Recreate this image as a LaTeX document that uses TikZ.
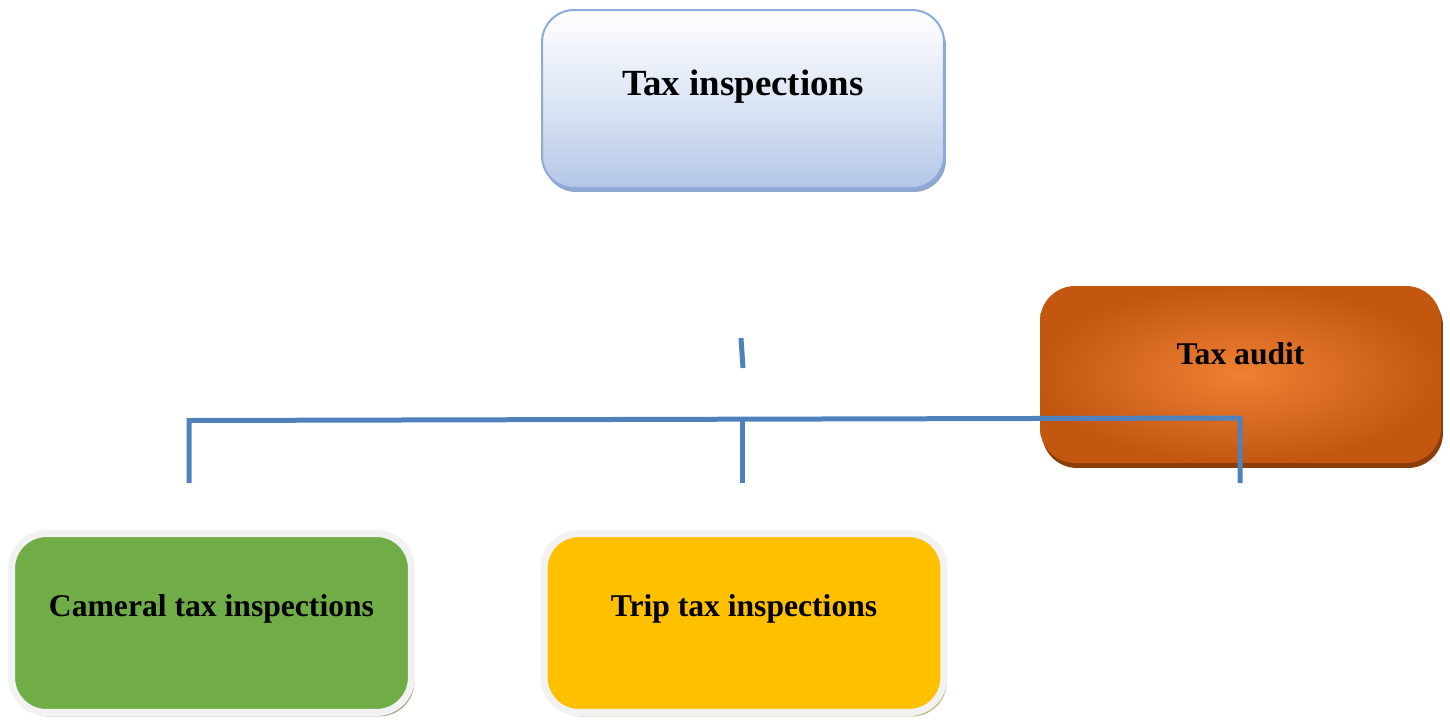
\documentclass[tikz,border=0pt]{standalone}
\usepackage{fontspec}
\setmainfont{Liberation Serif}
\usetikzlibrary{%
    calc,
    positioning,
    shadows
}
\definecolor{linkblue}{HTML}{4F81BD}
\definecolor{topedge}{HTML}{8EAADB}
\definecolor{topfill}{HTML}{B4C7E7}
\definecolor{topshade}{HTML}{8FA7CC}
\definecolor{auditin}{HTML}{EF8035}
\definecolor{auditout}{HTML}{C35710}
\definecolor{auditshade}{HTML}{8A3E0C}
\definecolor{camgreen}{HTML}{70AD47}
\definecolor{camshade}{HTML}{A3AE96}
\definecolor{tripyellow}{HTML}{FFC000}
\definecolor{tripshade}{HTML}{C6B68A}
\definecolor{rim}{HTML}{F2F2F2}
\tikzset{
    boxtitle/.style = {font=\bfseries\fontsize{18}{22}\selectfont},
    headbox/.style = {rounded corners=0.64cm, draw=topedge, line width=0.04cm,
        top color=white, bottom color=topfill, middle color=topfill!45!white,
        minimum width=8.04cm, minimum height=3.56cm,
        drop shadow={shadow xshift=0.04cm, shadow yshift=-0.08cm, fill=topshade, opacity=1}},
    auditbox/.style = {rounded corners=0.7cm, shading=radial,
        inner color=auditin, outer color=auditout,
        minimum width=8.02cm, minimum height=3.54cm,
        drop shadow={shadow xshift=0.04cm, shadow yshift=-0.1cm, fill=auditshade, opacity=1}},
    kindbox/.style = {rounded corners=0.7cm, draw=rim, line width=0.14cm,
        minimum width=8cm, minimum height=3.58cm},
    link/.style = {draw=linkblue, line width=0.1cm}
}

\begin{document}
\begin{tikzpicture}[x=0.02cm, y=-0.02cm]
    \useasboundingbox (0,0) rectangle (1450,720);

    \node[headbox, label={[boxtitle, font=\bfseries\fontsize{21}{25}\selectfont, yshift=0.25cm]center:Tax inspections}]
        (insp) at (743,99) {};
    \node[auditbox, label={[boxtitle, yshift=0.42cm]center:Tax audit}]
        (audit) at (1240.5,374.5) {};
    \node[kindbox, fill=camgreen,
        drop shadow={shadow xshift=0.06cm, shadow yshift=-0.08cm, fill=camshade, opacity=1},
        label={[boxtitle, yshift=0.29cm]center:Cameral tax inspections}]
        (cameral) at (211.5,623) {};
    \node[kindbox, fill=tripyellow,
        drop shadow={shadow xshift=0.06cm, shadow yshift=-0.08cm, fill=tripshade, opacity=1},
        label={[boxtitle, yshift=0.29cm]center:Trip tax inspections}]
        (trip) at (744,623) {};

    % connector pieces
    \coordinate (stem-top) at (741,338);
    \coordinate (stem-bot) at (743,368);
    \coordinate (bar-l) at (189,420.5);
    \coordinate (bar-m) at (742,419.5);
    \coordinate (bar-r) at (1240,418);
    \foreach \Name/\X in {l/189, m/742, r/1240}
        \coordinate (drop-\Name) at (\X,483);

    \draw[link] (stem-top) -- (stem-bot);
    \draw[link] (drop-l) -- (bar-l) -- (bar-r) -- (drop-r);
    \draw[link] (bar-m) -- (drop-m);
\end{tikzpicture}
\end{document}
